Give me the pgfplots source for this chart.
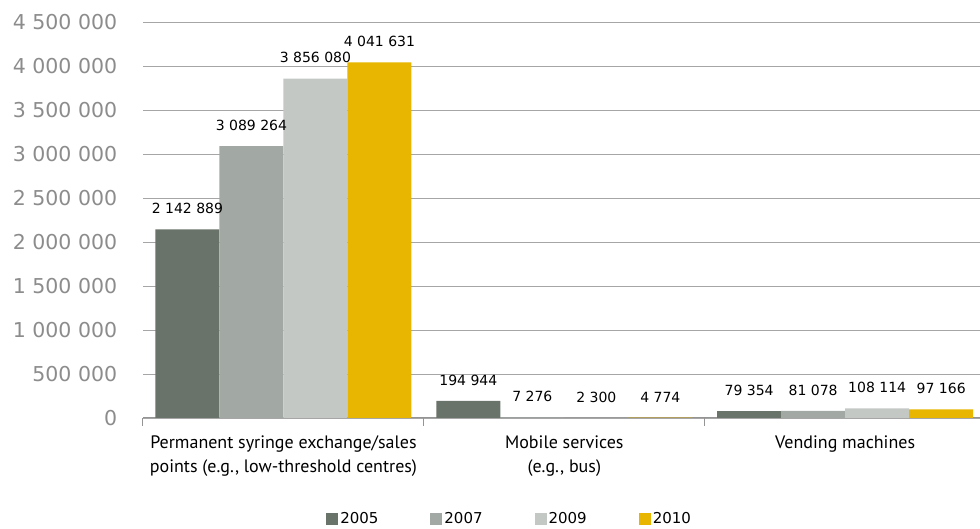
\documentclass[border=0pt]{standalone}
\usepackage{pgfplots}
\pgfplotsset{compat=1.18}
\usepackage{fontspec}
\setmainfont{DejaVu Sans}
\newfontfamily\catfont{PT Sans}
\definecolor{c1}{HTML}{6A7369}
\definecolor{c2}{HTML}{A2A9A4}
\definecolor{c3}{HTML}{C3C8C5}
\definecolor{c4}{HTML}{E8B500}
\definecolor{tickgray}{HTML}{8C8C8C}
\definecolor{gridgray}{HTML}{A6A6A6}
\begin{document}
\begin{tikzpicture}
\begin{axis}[
 scale only axis, width=837pt, height=396pt,
 xmin=-0.5, xmax=2.48, ymin=0, ymax=4500000,
 ybar=0pt, bar width=64pt,
 axis x line=bottom, axis y line=left,
 x axis line style={-, color=gridgray!120, line width=1pt},
 y axis line style={draw=none},
 ytick={0,500000,...,4500000},
 ymajorgrids, grid style={color=gridgray, line width=0.7pt},
 ytick style={draw=none},
 scaled y ticks=false,
 yticklabel style={font=\fontsize{20.5}{20.5}\selectfont, text=tickgray, xshift=-18pt,
   /pgf/number format/.cd, fixed, precision=0, 1000 sep={\ }, assume math mode=true},
 xtick={0,1,2},
 xticklabels={{Permanent syringe exchange/sales\\points (e.g., low-threshold centres)},{Mobile services\\(e.g., bus)},{Vending machines}},
 major x tick style={draw=none},
 minor xtick={-0.5,0.5,1.5},
 minor x tick style={draw=gridgray!120, line width=1pt},
 tick align=outside, minor tick length=8pt,
 xticklabel style={font=\catfont\fontsize{18}{24}\selectfont, align=center, yshift=-10pt},
 nodes near coords, point meta=explicit symbolic,
 every node near coord/.append style={font=\fontsize{14}{14}\selectfont, text=black, yshift=12pt},
 legend style={at={(0.438,-0.255)}, anchor=center, draw=none, legend columns=4,
   /tikz/every even column/.append style={column sep=50pt}, font=\fontsize{15}{15}\selectfont},
 legend image code/.code={\fill[#1] (0pt,-6.5pt) rectangle (12pt,5.5pt);},
]
\addplot[fill=c1, draw=none] coordinates {(0,2142889) [2~142~889] (1,194944) [194~944] (2,79354) [79~354]};
\addplot[fill=c2, draw=none] coordinates {(0,3089264) [3~089~264] (1,7276) [7~276] (2,81078) [81~078]};
\addplot[fill=c3, draw=none] coordinates {(0,3856080) [3~856~080] (1,2300) [2~300] (2,108114) [108~114]};
\addplot[fill=c4, draw=none] coordinates {(0,4041631) [4~041~631] (1,4774) [4~774] (2,97166) [97~166]};
\legend{2005,2007,2009,2010}
\coordinate (O) at (rel axis cs:0,0);
\end{axis}
\pgfresetboundingbox
\path (O) ++(-143pt,-111pt) rectangle ++(980pt,529pt);
\end{tikzpicture}
\end{document}
